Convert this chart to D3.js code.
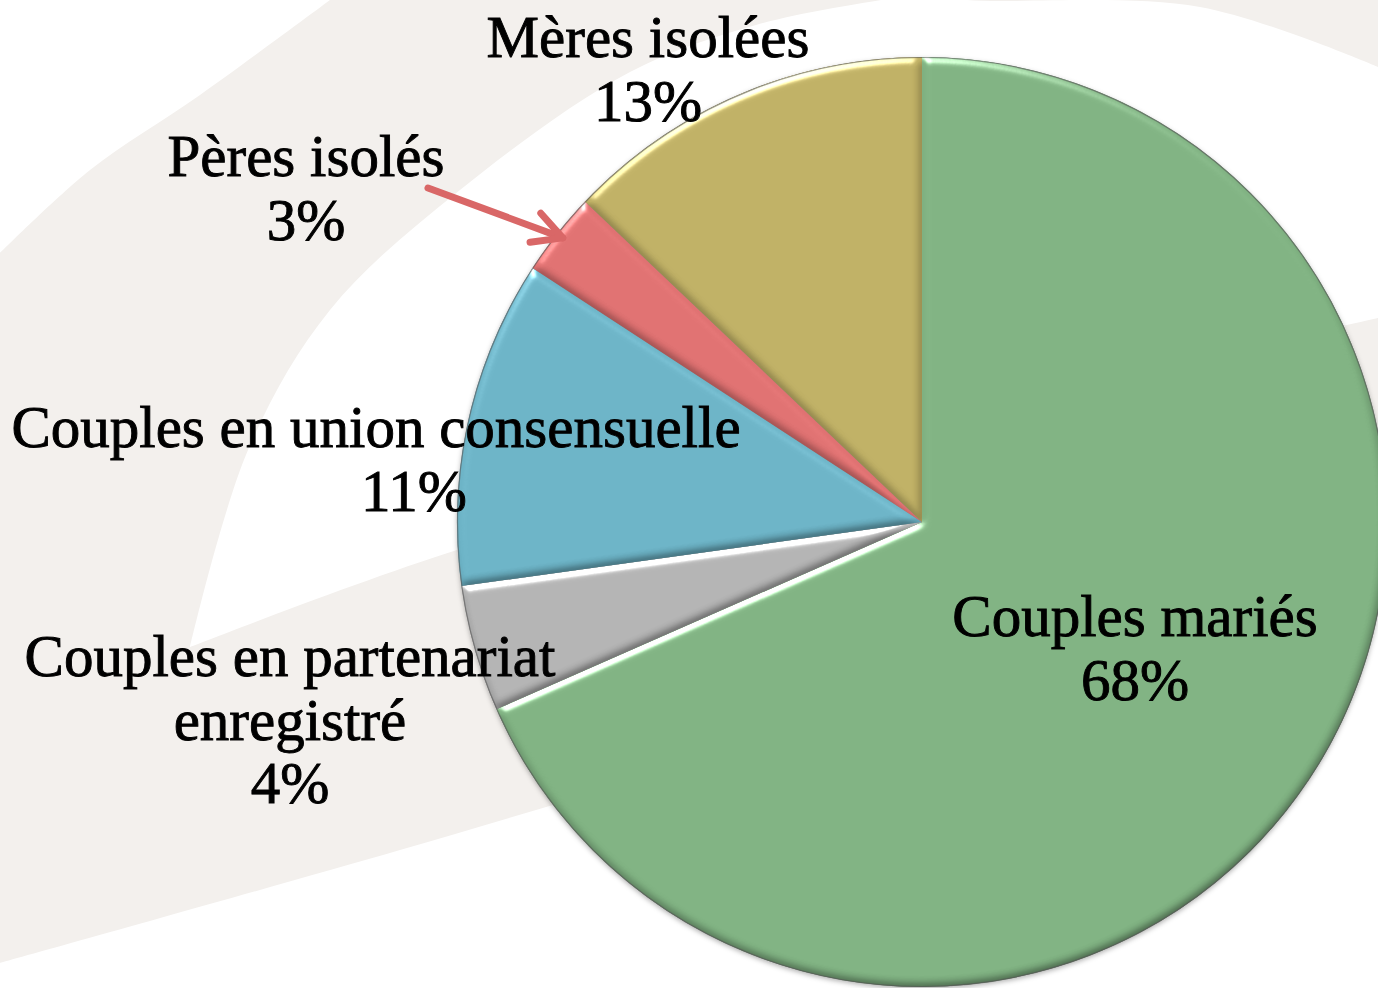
<!DOCTYPE html>
<html>
<head>
<meta charset="utf-8">
<script src="https://cdn.jsdelivr.net/npm/d3@7"></script>
<style>
  html, body { margin: 0; padding: 0; background: #ffffff; }
  svg { display: block; }
</style>
</head>
<body>
<svg id="chart" width="1378" height="988"></svg>
<script>
// ---------- data ----------
const categories = ["Couples mariés", "Couples en partenariat enregistré", "Couples en union consensuelle", "Pères isolés", "Mères isolées"];
const shares = [68.4, 4.4, 11.4, 2.9, 12.9];
const labelLines = [["Couples mariés"], ["Couples en partenariat", "enregistré"], ["Couples en union consensuelle"], ["Pères isolés"], ["Mères isolées"]];
const sliceColors = ["#80b282", "#b3b3b3", "#6cb3c6", "#df7171", "#bfb065"];

// ---------- layout ----------
const W = 1378, H = 988;
const cx = 922, cy = 522, R = 465;
const fontSize = 59, lineH = 63.5;
const labelLayout = [
  { x: 1135, y: 636 },
  { x: 290, y: 676 },
  { x: 376, y: 447, pctX: 414 },
  { x: 306, y: 176 },
  { x: 648, y: 57 }
];
const beige = "#f3f0ed";

const svg = d3.select("#chart");
const defs = svg.append("defs");

// bevel filter
const f = defs.append("filter").attr("id", "bevel")
  .attr("x", "-5%").attr("y", "-5%").attr("width", "110%").attr("height", "110%")
  .attr("color-interpolation-filters", "sRGB");
f.append("feGaussianBlur").attr("in", "SourceAlpha").attr("stdDeviation", 4).attr("result", "blur");
const dl = f.append("feDiffuseLighting").attr("in", "blur").attr("surfaceScale", 2.5)
  .attr("diffuseConstant", 1.155).attr("lighting-color", "#ffffff").attr("result", "diff");
dl.append("feDistantLight").attr("azimuth", 250).attr("elevation", 60);
f.append("feComposite").attr("in", "SourceGraphic").attr("in2", "diff").attr("operator", "arithmetic")
  .attr("k1", 1).attr("k2", 0).attr("k3", 0).attr("k4", 0).attr("result", "shaded");
const sl = f.append("feSpecularLighting").attr("in", "blur").attr("surfaceScale", 4)
  .attr("specularConstant", 0.6).attr("specularExponent", 30).attr("lighting-color", "#ffffff").attr("result", "spec");
sl.append("feDistantLight").attr("azimuth", 250).attr("elevation", 30);
f.append("feComposite").attr("in", "spec").attr("in2", "SourceAlpha").attr("operator", "in").attr("result", "specIn");
f.append("feComposite").attr("in", "shaded").attr("in2", "specIn").attr("operator", "arithmetic")
  .attr("k1", 0).attr("k2", 1).attr("k3", 1).attr("k4", 0);

// shadow filter
const sh = defs.append("filter").attr("id", "shadow").attr("x", "-10%").attr("y", "-10%").attr("width", "120%").attr("height", "120%");
sh.append("feDropShadow").attr("dx", 0).attr("dy", 2).attr("stdDeviation", 2.5).attr("flood-color", "#000").attr("flood-opacity", 0.3);

// ---------- background swooshes ----------
svg.append("rect").attr("width", W).attr("height", H).attr("fill", beige);
const cr = d3.line().curve(d3.curveCatmullRom.alpha(0.5));
const lin = d3.line();
svg.append("path").attr("fill", "#fff")
  .attr("d", "M0,0 L330,0 " + cr([[330, 0], [200, 95], [90, 170], [0, 253]]).replace(/^M/, "L") + " Z");
const bandB = [[190, 647], [248, 450], [330, 310], [460, 190], [630, 72], [756, 25], [881, 0], [925, -6], [967, 0], [1200, 7], [1378, 67]];
const wedgeTop = [[1378, 318], [900, 430], [457, 550], [190, 647]];
svg.append("path").attr("fill", "#fff")
  .attr("d", cr(bandB) + " L1380,67 L1380,318 " + cr(wedgeTop).replace(/^M/, "L") + " Z");
const wedgeBottom = [[0, 963], [400, 850], [900, 702], [1378, 565]];
svg.append("path").attr("fill", "#fff")
  .attr("d", cr(wedgeBottom) + " L1380,565 L1380,990 L0,990 Z");

// ---------- pie ----------
const pie = d3.pie().sort(null).value(d => d).startAngle(0).endAngle(2 * Math.PI);
const arcs = pie(shares);
const arc = d3.arc().innerRadius(0).outerRadius(R);

const g = svg.append("g").attr("transform", `translate(${cx},${cy})`);
g.append("g").attr("filter", "url(#shadow)")
  .append("circle").attr("r", R).attr("fill", "#888");
g.selectAll("path.slice").data(arcs).join("path")
  .attr("class", "slice")
  .attr("d", arc)
  .attr("fill", (d, i) => sliceColors[i])
  .attr("filter", "url(#bevel)");
g.append("circle").attr("r", R - 0.5).attr("fill", "none").attr("stroke", "#555").attr("stroke-opacity", 0.6).attr("stroke-width", 1.2);

// ---------- labels ----------
const fmt = d3.format(".0%");
const total = d3.sum(shares);
const labels = svg.append("g")
  .attr("font-family", "'Liberation Serif', 'Times New Roman', serif")
  .attr("font-size", fontSize)
  .attr("fill", "#000")
  .attr("stroke", "#000").attr("stroke-width", 0.9)
  .attr("text-anchor", "middle");

labelLines.forEach((lines, i) => {
  const L = labelLayout[i];
  lines.forEach((t, k) => {
    labels.append("text").attr("x", L.x).attr("y", L.y + k * lineH).text(t);
  });
  labels.append("text").attr("x", L.pctX || L.x).attr("y", L.y + lines.length * lineH)
    .text(fmt(shares[i] / total));
});

// ---------- arrow for small slice ----------
const red = arcs[3];
const midA = (red.startAngle + red.endAngle) / 2;
const tip = [cx + Math.sin(midA) * R * 0.985, cy - Math.cos(midA) * R * 0.985];
const start = [428, 188];
const ang = Math.atan2(tip[1] - start[1], tip[0] - start[0]);
const barbLen = 33, barbA = 28 * Math.PI / 180;
const b1 = [tip[0] - barbLen * Math.cos(ang - barbA), tip[1] - barbLen * Math.sin(ang - barbA)];
const b2 = [tip[0] - barbLen * Math.cos(ang + barbA), tip[1] - barbLen * Math.sin(ang + barbA)];
const arrowG = svg.append("g").attr("stroke", "#d96767").attr("stroke-width", 7)
  .attr("stroke-linecap", "round").attr("stroke-linejoin", "round").attr("fill", "none");
arrowG.append("path").attr("d", lin([start, tip]));
arrowG.append("path").attr("d", lin([b1, tip, b2]));
</script>
</body>
</html>
